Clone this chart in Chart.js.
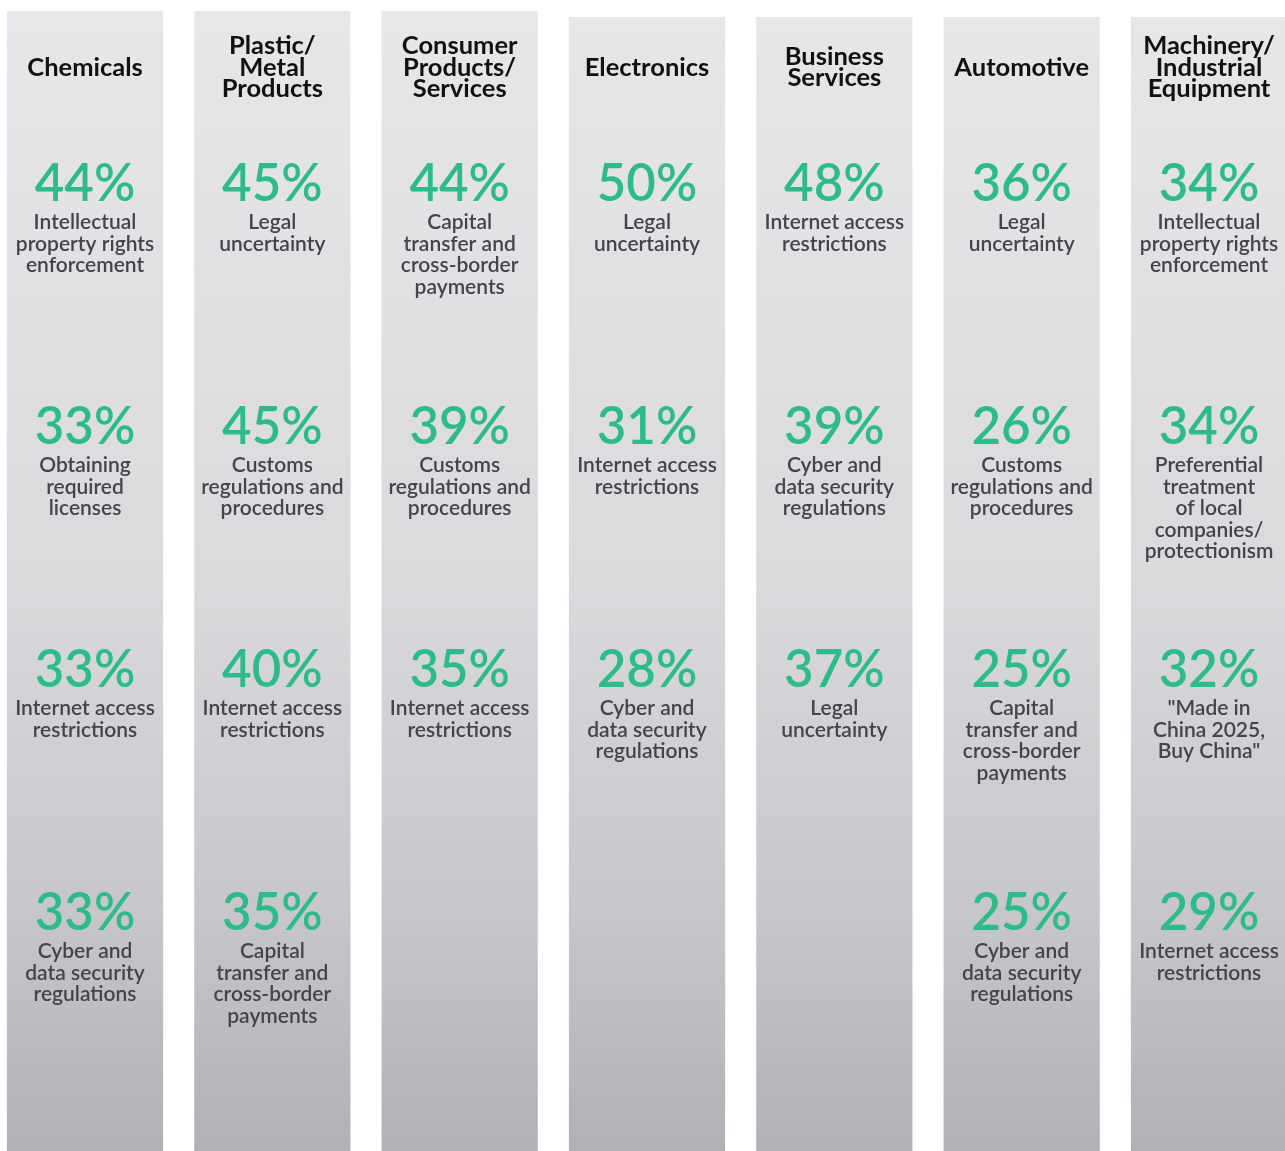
<!DOCTYPE html>
<html>
<head>
<meta charset="utf-8">
<script src="https://cdn.jsdelivr.net/npm/chart.js@4"></script>
<style>
  html, body { margin: 0; padding: 0; background: #fff; }
  #wrap { width: 1285px; height: 1151px; }
</style>
</head>
<body>
<div id="wrap"><canvas id="issuesChart" width="1285" height="1151"></canvas></div>
<script>
// industries (header lines as drawn)
const industries = [
  ['Chemicals'],
  ['Plastic/', 'Metal', 'Products'],
  ['Consumer', 'Products/', 'Services'],
  ['Electronics'],
  ['Business', 'Services'],
  ['Automotive'],
  ['Machinery/', 'Industrial', 'Equipment']
];

// top regulatory issues per industry, share of respondents (%)
const rank1Values = [44, 45, 44, 50, 48, 36, 34];
const rank1Issues = [
  ['Intellectual', 'property rights', 'enforcement'],
  ['Legal', 'uncertainty'],
  ['Capital', 'transfer and', 'cross-border', 'payments'],
  ['Legal', 'uncertainty'],
  ['Internet access', 'restrictions'],
  ['Legal', 'uncertainty'],
  ['Intellectual', 'property rights', 'enforcement']
];

const rank2Values = [33, 45, 39, 31, 39, 26, 34];
const rank2Issues = [
  ['Obtaining', 'required', 'licenses'],
  ['Customs', 'regulations and', 'procedures'],
  ['Customs', 'regulations and', 'procedures'],
  ['Internet access', 'restrictions'],
  ['Cyber and', 'data security', 'regulations'],
  ['Customs', 'regulations and', 'procedures'],
  ['Preferential', 'treatment', 'of local', 'companies/', 'protectionism']
];

const rank3Values = [33, 40, 35, 28, 37, 25, 32];
const rank3Issues = [
  ['Internet access', 'restrictions'],
  ['Internet access', 'restrictions'],
  ['Internet access', 'restrictions'],
  ['Cyber and', 'data security', 'regulations'],
  ['Legal', 'uncertainty'],
  ['Capital', 'transfer and', 'cross-border', 'payments'],
  ['"Made in', 'China 2025,', 'Buy China"']
];

const rank4Values = [33, 35, null, null, null, 25, 29];
const rank4Issues = [
  ['Cyber and', 'data security', 'regulations'],
  ['Capital', 'transfer and', 'cross-border', 'payments'],
  null,
  null,
  null,
  ['Cyber and', 'data security', 'regulations'],
  ['Internet access', 'restrictions']
];

const ranks = [
  { values: rank1Values, issues: rank1Issues },
  { values: rank2Values, issues: rank2Issues },
  { values: rank3Values, issues: rank3Issues },
  { values: rank4Values, issues: rank4Issues }
];

// layout (y scale runs in canvas pixels, top = 0)
const H = 1151;
const panelTop = [11, 11, 11, 17, 17, 17, 17];
const headerMid = 67.5;
const rowStart = 185;
const rowGap = 243;
const lineGap = 21.5;

const GREEN = '#2dbb89';
const GREY_TEXT = '#444449';
const HEAD_TEXT = '#111111';
const FONT = 'Lato, "Noto Sans", sans-serif';

function panelGradient(ctx) {
  const area = ctx.chart.chartArea;
  if (!area) return '#dcdcdf';
  const g = ctx.chart.ctx.createLinearGradient(0, 0, 0, H);
  g.addColorStop(0, '#e7e7e9');
  g.addColorStop(0.5, '#dadadd');
  g.addColorStop(0.8, '#c6c6ca');
  g.addColorStop(1, '#b1b1b5');
  return g;
}

const textPlugin = {
  id: 'columnText',
  afterDatasetsDraw(chart) {
    const { ctx, scales: { x, y } } = chart;
    ctx.save();
    ctx.textAlign = 'center';
    ctx.textBaseline = 'middle';

    industries.forEach((head, i) => {
      const cx = x.getPixelForValue(i);

      ctx.fillStyle = HEAD_TEXT;
      ctx.font = 'bold 25.5px ' + FONT;
      const h0 = headerMid - (head.length - 1) * lineGap / 2;
      head.forEach((line, j) => {
        ctx.fillText(line, cx, y.getPixelForValue(h0 + j * lineGap));
      });

      ranks.forEach((r, k) => {
        const v = r.values[i];
        if (v == null) return;
        const py = rowStart + k * rowGap;
        ctx.fillStyle = GREEN;
        ctx.font = '600 51px ' + FONT;
        ctx.fillText(v + '%', cx, y.getPixelForValue(py));

        ctx.fillStyle = GREY_TEXT;
        ctx.font = '600 21px ' + FONT;
        r.issues[i].forEach((line, j) => {
          ctx.fillText(line, cx, y.getPixelForValue(py + 37.5 + j * lineGap));
        });
      });
    });
    ctx.restore();
  }
};

new Chart(document.getElementById('issuesChart'), {
  type: 'bar',
  data: {
    labels: industries.map(h => h.join(' ')),
    datasets: [{
      data: industries.map((h, i) => [panelTop[i], H]),
      backgroundColor: panelGradient,
      borderWidth: 0,
      categoryPercentage: 1,
      barPercentage: 0.834,
      clip: false
    }]
  },
  options: {
    responsive: false,
    animation: false,
    layout: { padding: { left: 85, right: 76, top: 0, bottom: 0 } },
    plugins: {
      legend: { display: false },
      tooltip: { enabled: false }
    },
    scales: {
      x: { type: 'category', offset: false, display: false },
      y: { min: 0, max: H, reverse: true, display: false }
    }
  },
  plugins: [textPlugin]
});
</script>
</body>
</html>
